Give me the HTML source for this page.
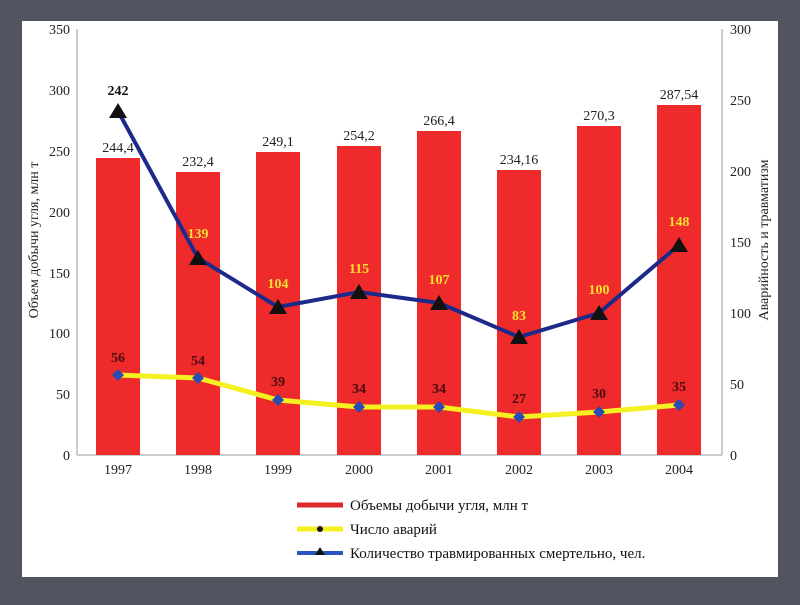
<!DOCTYPE html><html><head><meta charset="utf-8"><style>body{margin:0;background:#52545f;width:800px;height:600px;overflow:hidden}</style></head><body>
<svg width="800" height="600" xmlns="http://www.w3.org/2000/svg" font-family="Liberation Serif, serif">
<rect x="0" y="0" width="800" height="600" fill="#52545f"/>
<rect x="22" y="21" width="756" height="556" fill="#fff"/>
<g stroke="#999" stroke-width="1">
<line x1="77" y1="29" x2="77" y2="455"/><line x1="722" y1="29" x2="722" y2="455"/>
<line x1="77" y1="455" x2="722" y2="455"/>
</g>
<g font-size="14" fill="#222" text-anchor="end">
<text x="70" y="34">350</text><text x="70" y="95">300</text><text x="70" y="156">250</text><text x="70" y="217">200</text><text x="70" y="278">150</text><text x="70" y="338">100</text><text x="70" y="399">50</text><text x="70" y="460">0</text>
</g>
<g font-size="14" fill="#222">
<text x="730" y="34">300</text><text x="730" y="105">250</text><text x="730" y="176">200</text><text x="730" y="247">150</text><text x="730" y="318">100</text><text x="730" y="389">50</text><text x="730" y="460">0</text>
</g>
<text transform="translate(38,240) rotate(-90)" font-size="14" text-anchor="middle" fill="#222">Объем добычи угля, млн т</text>
<text transform="translate(768,240) rotate(-90)" font-size="14" text-anchor="middle" fill="#222">Аварийность и травматизм</text>
<g fill="#ee2a2a">
<rect x="96" y="158" width="44" height="297"/><rect x="176" y="172" width="44" height="283"/><rect x="256" y="152" width="44" height="303"/><rect x="337" y="146" width="44" height="309"/><rect x="417" y="131" width="44" height="324"/><rect x="497" y="170" width="44" height="285"/><rect x="577" y="126" width="44" height="329"/><rect x="657" y="105" width="44" height="350"/>
</g>
<g font-size="14" fill="#222" text-anchor="middle">
<text x="118" y="152">244,4</text><text x="198" y="166">232,4</text><text x="278" y="146">249,1</text><text x="359" y="140">254,2</text><text x="439" y="125">266,4</text><text x="519" y="164">234,16</text><text x="599" y="120">270,3</text><text x="679" y="99">287,54</text>
<text x="118" y="474">1997</text><text x="198" y="474">1998</text><text x="278" y="474">1999</text><text x="359" y="474">2000</text><text x="439" y="474">2001</text><text x="519" y="474">2002</text><text x="599" y="474">2003</text><text x="679" y="474">2004</text>
</g>
<polyline points="118,375 198,378 278,400 359,407 439,407 519,417 599,412 679,405" fill="none" stroke="#f5f020" stroke-width="5"/>
<g fill="#2a4cb0">
<polygon points="118,369 124,375 118,381 112,375"/><polygon points="198,372 204,378 198,384 192,378"/><polygon points="278,394 284,400 278,406 272,400"/><polygon points="359,401 365,407 359,413 353,407"/><polygon points="439,401 445,407 439,413 433,407"/><polygon points="519,411 525,417 519,423 513,417"/><polygon points="599,406 605,412 599,418 593,412"/><polygon points="679,399 685,405 679,411 673,405"/>
</g>
<polyline points="118,111 198,258 278,307 359,292 439,303 519,337 599,313 679,245" fill="none" stroke="#1e2a8a" stroke-width="4"/>
<g fill="#111">
<polygon points="118,103 109,118 127,118"/><polygon points="198,250 189,265 207,265"/><polygon points="278,299 269,314 287,314"/><polygon points="359,284 350,299 368,299"/><polygon points="439,295 430,310 448,310"/><polygon points="519,329 510,344 528,344"/><polygon points="599,305 590,320 608,320"/><polygon points="679,237 670,252 688,252"/>
</g>
<g font-size="14" font-weight="bold" text-anchor="middle">
<text x="118" y="95" fill="#111">242</text>
<g fill="#f5e030"><text x="198" y="238">139</text><text x="278" y="288">104</text><text x="359" y="273">115</text><text x="439" y="284">107</text><text x="519" y="320">83</text><text x="599" y="294">100</text><text x="679" y="226">148</text></g>
<g fill="#4a0c12"><text x="118" y="362">56</text><text x="198" y="365">54</text><text x="278" y="386">39</text><text x="359" y="393">34</text><text x="439" y="393">34</text><text x="519" y="403">27</text><text x="599" y="398">30</text><text x="679" y="391">35</text></g>
</g>
<line x1="297" y1="505" x2="343" y2="505" stroke="#dd2a2a" stroke-width="5"/>
<line x1="297" y1="529" x2="343" y2="529" stroke="#f5f020" stroke-width="5"/><circle cx="320" cy="529" r="3" fill="#111"/>
<line x1="297" y1="553" x2="343" y2="553" stroke="#2a55c0" stroke-width="4"/><polygon points="320,547 315,555 325,555" fill="#111"/>
<g font-size="15" fill="#111"><text x="350" y="510">Объемы добычи угля, млн  т</text><text x="350" y="534">Число аварий</text><text x="350" y="558">Количество травмированных смертельно, чел.</text></g>
</svg></body></html>
